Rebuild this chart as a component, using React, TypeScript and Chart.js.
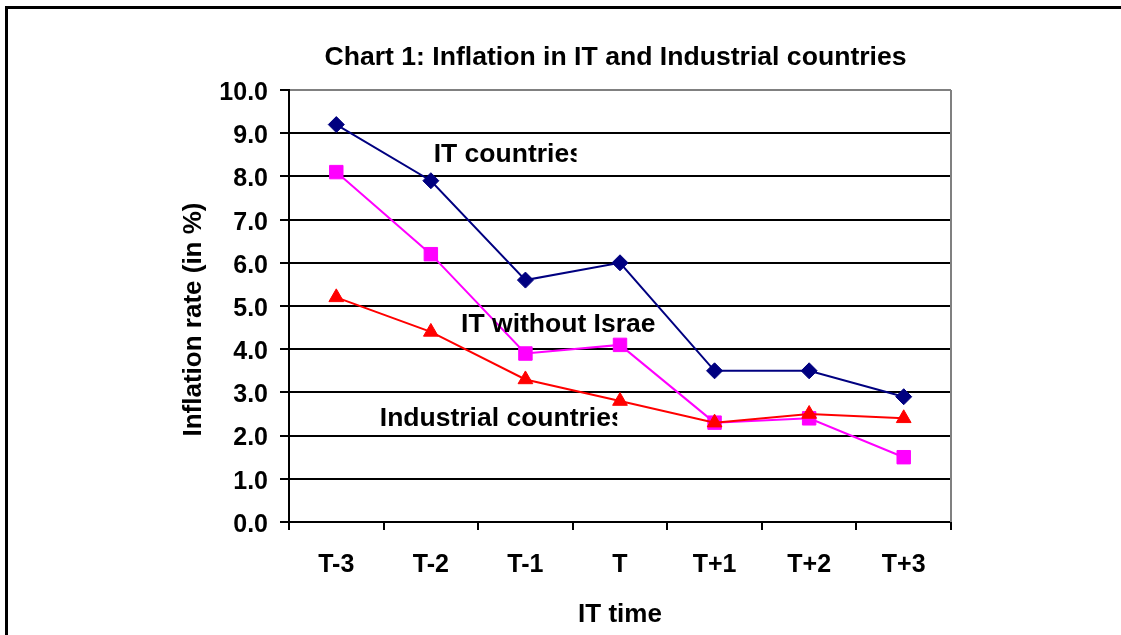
import React, { useEffect, useRef } from 'react';
import { Chart, registerables } from 'chart.js';

Chart.register(...registerables);

// ---- data ----
const categories = ['T-3', 'T-2', 'T-1', 'T', 'T+1', 'T+2', 'T+3'];
const itCountries = [9.2, 7.9, 5.6, 6.0, 3.5, 3.5, 2.9];
const itWithoutIsrael = [8.1, 6.2, 3.9, 4.1, 2.3, 2.4, 1.5];
const industrialCountries = [5.2, 4.4, 3.3, 2.8, 2.3, 2.5, 2.4];

const chartTitle = 'Chart 1: Inflation in IT and Industrial countries';
const xAxisTitle = 'IT time';
const yAxisTitle = 'Inflation rate (in %)';

// in-plot series labels (data coordinates: category index, value); clipped text boxes
const seriesLabels = [
  { text: 'IT countries', x: 1.03, y: 8.33, clipX: 2.54 },
  { text: 'IT without Israel', x: 1.32, y: 4.4, clipX: 3.38 },
  { text: 'Industrial countries', x: 0.46, y: 2.22, clipX: 2.97 },
];

const FONT = 'Arial, "Liberation Sans", sans-serif';

const decorPlugin = {
  id: 'decor',
  beforeDraw(chart: any) {
    const ctx = chart.ctx;
    ctx.save();
    ctx.fillStyle = '#ffffff';
    ctx.fillRect(0, 0, chart.width, chart.height);
    ctx.fillStyle = '#000000';
    ctx.fillRect(5, 6, chart.width - 5, 3);
    ctx.fillRect(5, 6, 3, chart.height - 6);
    ctx.restore();
  },
  beforeDatasetsDraw(chart: any) {
    const ctx = chart.ctx;
    const a = chart.chartArea;
    ctx.save();
    ctx.strokeStyle = '#808080';
    ctx.lineWidth = 2;
    ctx.beginPath();
    ctx.moveTo(a.right, a.top);
    ctx.lineTo(a.right, a.bottom);
    ctx.stroke();
    ctx.restore();
  },
  afterDraw(chart: any) {
    const ctx = chart.ctx;
    const xs = chart.scales.x;
    const ys = chart.scales.y;
    ctx.save();
    ctx.fillStyle = '#000000';
    ctx.font = `bold 26.5px ${FONT}`;
    ctx.textAlign = 'left';
    ctx.textBaseline = 'alphabetic';
    for (const l of seriesLabels) {
      const px = xs.getPixelForValue(l.x);
      const py = ys.getPixelForValue(l.y);
      const cx = xs.getPixelForValue(l.clipX);
      ctx.save();
      ctx.beginPath();
      ctx.rect(px - 2, py - 30, cx - px + 2, 40);
      ctx.clip();
      ctx.fillText(l.text, px, py);
      ctx.restore();
    }
    // y axis title
    ctx.font = `bold 26px ${FONT}`;
    ctx.translate(194, 319.5);
    ctx.rotate(-Math.PI / 2);
    ctx.textAlign = 'center';
    ctx.textBaseline = 'middle';
    ctx.fillText(yAxisTitle, 0, 0);
    ctx.restore();
  },
};

export default function App() {
  const ref = useRef<HTMLCanvasElement | null>(null);

  useEffect(() => {
    if (!ref.current) return;
    Chart.defaults.font.family = FONT;
    Chart.defaults.color = '#000000';
    const chart = new Chart(ref.current, {
      type: 'line',
      data: {
        labels: categories,
        datasets: [
          {
            label: 'IT countries',
            data: itCountries,
            borderColor: '#000080',
            backgroundColor: '#000080',
            borderWidth: 2,
            pointStyle: 'rectRot',
            pointRadius: 8,
            pointBorderWidth: 1,
            tension: 0,
            order: 2,
          },
          {
            label: 'IT without Israel',
            data: itWithoutIsrael,
            borderColor: '#FF00FF',
            backgroundColor: '#FF00FF',
            borderWidth: 2,
            pointStyle: 'rect',
            pointRadius: 9.5,
            pointBorderWidth: 1,
            tension: 0,
            order: 1,
          },
          {
            label: 'Industrial countries',
            data: industrialCountries,
            borderColor: '#FF0000',
            backgroundColor: '#FF0000',
            borderWidth: 2,
            pointStyle: 'triangle',
            pointRadius: 8.5,
            pointBorderWidth: 1,
            tension: 0,
            order: 0,
          },
        ],
      },
      options: {
        responsive: false,
        animation: false,
        layout: { padding: { left: 216, right: 106, top: 0, bottom: 0 } },
        plugins: {
          legend: { display: false },
          tooltip: { enabled: false },
          title: {
            display: true,
            text: chartTitle,
            color: '#000000',
            font: { size: 26.6, weight: 'bold', family: FONT },
            padding: { top: 42, bottom: 16.1 },
          },
        },
        scales: {
          x: {
            offset: true,
            grid: {
              offset: true,
              drawOnChartArea: false,
              drawTicks: true,
              tickLength: 8,
              color: '#000000',
              tickColor: '#000000',
              lineWidth: 2,
            },
            border: { display: true, color: '#000000', width: 2 },
            ticks: {
              color: '#000000',
              font: { size: 25, weight: 'bold', family: FONT },
              padding: 20,
              maxRotation: 0,
              autoSkip: false,
            },
            title: {
              display: true,
              text: xAxisTitle,
              color: '#000000',
              font: { size: 26, weight: 'bold', family: FONT },
              padding: { top: 0, bottom: 4.4 },
            },
            afterFit: (s: any) => {
              s.height = 113;
            },
          },
          y: {
            min: 0,
            max: 10,
            grid: {
              color: (c: any) => (c.tick && c.tick.value === 10 ? '#808080' : '#000000'),
              tickColor: '#000000',
              lineWidth: 2,
              tickLength: 9,
            },
            border: { display: true, color: '#000000', width: 2 },
            ticks: {
              stepSize: 1,
              color: '#000000',
              padding: 12,
              labelOffset: 3,
              font: { size: 25, weight: 'bold', family: FONT },
              callback: (v: any) => Number(v).toFixed(1),
            },
            afterFit: (s: any) => {
              s.width = 73;
            },
          },
          yRight: {
            position: 'right',
            min: 0,
            max: 10,
            grid: { display: false, drawOnChartArea: false },
            border: { display: false },
            ticks: { display: false },
            afterFit: (s: any) => {
              s.width = 64;
            },
          },
        },
      },
      plugins: [decorPlugin],
    } as any);
    return () => chart.destroy();
  }, []);

  return (
    <div style={{ position: 'absolute', left: 0, top: 0, width: 1121, height: 635 }}>
      <canvas ref={ref} width={1121} height={635} style={{ display: 'block' }} />
    </div>
  );
}
